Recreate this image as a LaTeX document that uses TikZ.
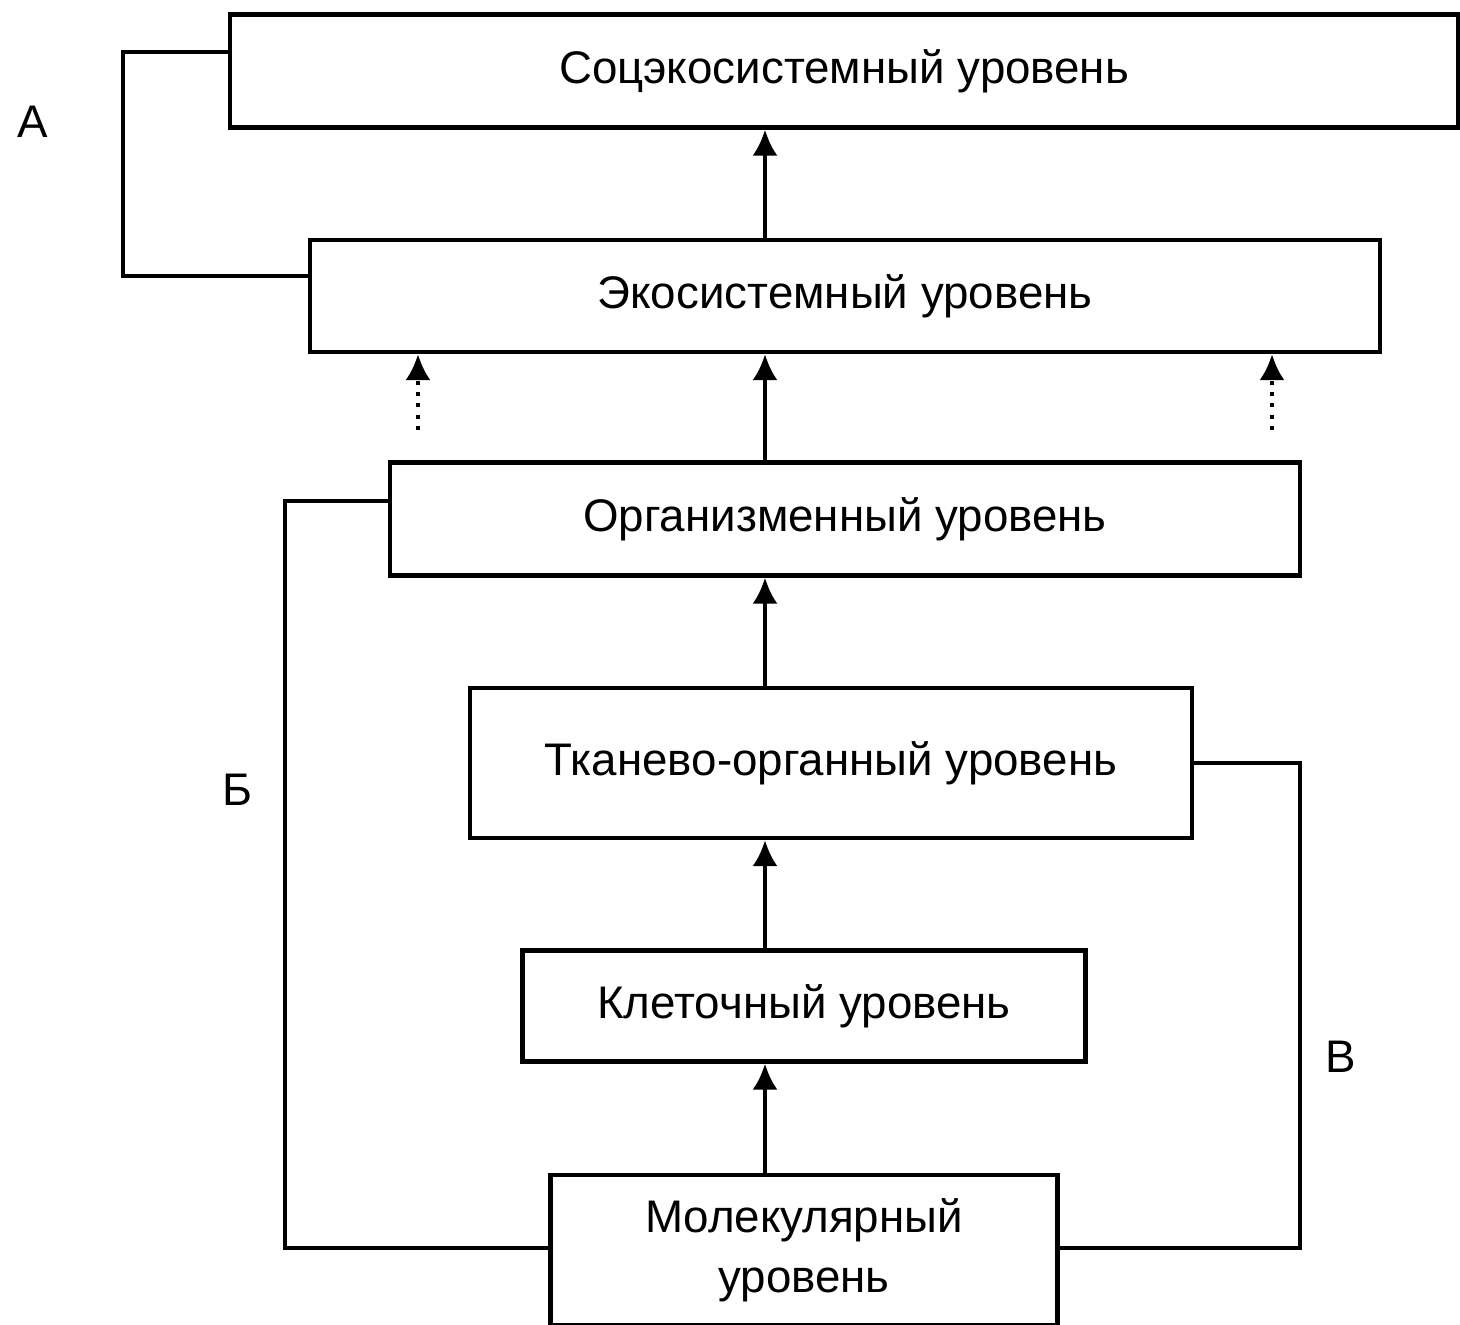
\documentclass[tikz,border=0pt]{standalone}
\usepackage{fontspec}
\setmainfont{Liberation Sans}
\usetikzlibrary{arrows.meta}

\tikzset{
  level/.style={draw, line width=1.2pt, inner sep=0pt, align=center,
    font=\fontsize{13}{17}\selectfont},
  up/.style={line width=1.2pt, -{Latex[length=2.6mm, width=2.5mm]}},
  dotup/.style={up, dotted},
  link/.style={line width=1.2pt},
  letter/.style={font=\fontsize{13}{15}\selectfont}
}

\begin{document}
\begin{tikzpicture}[x=0.1mm, y=-0.1mm]
  \useasboundingbox (0,0) rectangle (1460,1325);

  % Levels
  \node[level, minimum width=12.28cm, minimum height=1.13cm] (socio) at (844,71) {Соцэкосистемный уровень};
  \node[level, minimum width=10.70cm, minimum height=1.12cm] (eco) at (845,296) {Экосистемный уровень};
  \node[level, minimum width=9.10cm, minimum height=1.13cm] (organism) at (845,519) {Организменный уровень};
  \node[level, minimum width=7.22cm, minimum height=1.50cm] (tissue) at (831,763) {Тканево-органный уровень};
  \node[level, minimum width=5.63cm, minimum height=1.11cm] (cell) at (804,1006) {Клеточный уровень};
  \node[level, minimum width=5.07cm, minimum height=1.50cm] (molecule) at (804,1250) {Молекулярный\\уровень};

  % Arrows between levels
  \draw[up] (molecule.north -| 765,0) -- (cell.south -| 765,0);
  \draw[up] (cell.north -| 765,0) -- (tissue.south -| 765,0);
  \draw[up] (tissue.north -| 765,0) -- (organism.south -| 765,0);
  \draw[up] (organism.north -| 765,0) -- (eco.south -| 765,0);
  \draw[up] (eco.north -| 765,0) -- (socio.south -| 765,0);

  % Dotted arrows
  \coordinate (dl) at (418,430);
  \coordinate (dr) at (1272,430);
  \draw[dotup] (dl) -- (dl |- eco.south);
  \draw[dotup] (dr) -- (dr |- eco.south);

  % Side links
  \draw[link] (socio.west |- 0,52) -| (123,276) -- (eco.west |- 0,276);
  \draw[link] (organism.west |- 0,501) -| (285,1248) -- (molecule.west |- 0,1248);
  \draw[link] (tissue.east |- 0,763) -| (1300,1248) -- (molecule.east |- 0,1248);

  % Labels
  \node[letter] (labA) at (33,122) {А};
  \node[letter] (labB) at (237,790) {Б};
  \node[letter] (labV) at (1341,1057) {В};
\end{tikzpicture}
\end{document}
